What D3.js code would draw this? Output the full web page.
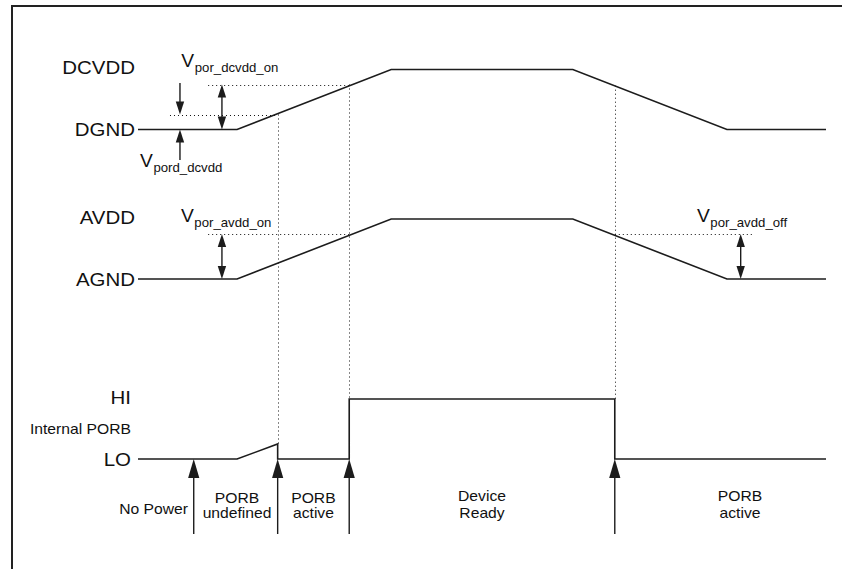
<!DOCTYPE html>
<html><head><meta charset="utf-8">
<script src="https://cdn.jsdelivr.net/npm/d3@7"></script>
<style>
html,body{margin:0;padding:0;background:#fff;}
svg{display:block;}
text{font-family:"Liberation Sans",Arial,Helvetica,sans-serif;fill:#111;}
</style>
</head><body>
<svg id="c" width="842" height="569"></svg>
<script>
// ---------------- data ----------------
const signals = ["DCVDD", "AVDD", "PORB"];
const highLabels = ["DCVDD", "AVDD", "HI"];
const lowLabels = ["DGND", "AGND", "LO"];
const sideLabel = "Internal PORB";

// waveforms: [time, level] (level 0 = ground/LO, 1 = supply/HI)
const dcvddWave = [[0,0],[14.4,0],[36.8,1],[63.2,1],[85.6,0],[100,0]];
const avddWave  = [[0,0],[14.4,0],[36.8,1],[63.2,1],[85.6,0],[100,0]];
const porbWave  = [[0,0],[14.4,0],[20.3,0.25],[20.3,0],[30.7,0],[30.7,1],[69.3,1],[69.3,0],[100,0]];

// thresholds
const thresholdNames  = ["pord_dcvdd", "por_dcvdd_on", "por_avdd_on", "por_avdd_off"];
const thresholdSignal = ["DCVDD", "DCVDD", "AVDD", "AVDD"];
const thresholdLevels = [0.25, 0.75, 0.75, 0.75];
const thresholdFrom   = [4.65, 10.2, 10.2, 69.3];
const thresholdTo     = [20.3, 30.7, 30.7, 89.4];

// state transition events
const eventTimes = [8.1, 20.3, 30.7, 69.3];
const stateNames = [["No Power"], ["PORB","undefined"], ["PORB","active"], ["Device","Ready"], ["PORB","active"]];
const stateTimes = [7.27, 14.4, 25.5, 50, 87.5];

// ---------------- layout ----------------
const svg = d3.select("#c");
const W = 842, H = 569;
const T = d3.scaleLinear().domain([0, 100]).range([138, 826]);
const ground = {DCVDD: 129.5, AVDD: 279, PORB: 459};
const Y = {};
signals.forEach(s => Y[s] = d3.scaleLinear().domain([0, 1]).range([ground[s], ground[s] - 60]));
const px = v => Math.round(v) + 0.5;

const INK = "#1c1c1c";

// frame
svg.append("path").attr("d", `M12,${H+5}V6H${W+5}`)
  .attr("fill","none").attr("stroke","#222").attr("stroke-width",2);

// text helper with horizontal stretch
function label(x, y, txt, size, anchor, sx) {
  return svg.append("text")
    .attr("transform", `translate(${x},${y}) scale(${sx||1.15},1)`)
    .attr("font-size", size).attr("text-anchor", anchor || "start").text(txt);
}

// signal labels
signals.forEach((s, i) => {
  const xr = s === "PORB" ? 131 : 135;
  label(xr, Y[s](0.92), highLabels[i], 17.5, "end", 1.17);
  label(xr, ground[s] + 6.5, lowLabels[i], 17.5, "end", 1.17);
});
label(131, Y.PORB(0.42), sideLabel, 14, "end", 1.12);

// dotted threshold lines
const dotted = g => g.attr("fill","none").attr("stroke","#111").attr("stroke-width",1).attr("stroke-dasharray","1,3");
thresholdNames.forEach((n, i) => {
  const y = px(Y[thresholdSignal[i]](thresholdLevels[i]));
  svg.append("line").attr("x1", T(thresholdFrom[i])).attr("x2", T(thresholdTo[i]))
    .attr("y1", y).attr("y2", y).call(dotted);
});

// dotted vertical guides
const guides = [
  {t: eventTimes[1], y1: Y.DCVDD(thresholdLevels[0]), y2: Y.PORB(0.25)},
  {t: eventTimes[2], y1: Y.DCVDD(thresholdLevels[1]), y2: Y.PORB(1)},
  {t: eventTimes[3], y1: Y.DCVDD(0.73), y2: Y.PORB(1)}
];
guides.forEach(g => svg.append("line").attr("x1", px(T(g.t))).attr("x2", px(T(g.t)))
  .attr("y1", g.y1).attr("y2", g.y2).call(dotted));

// waveforms
const waves = {DCVDD: dcvddWave, AVDD: avddWave, PORB: porbWave};
signals.forEach(s => {
  const line = d3.line().x(d => T(d[0])).y(d => Y[s](d[1]));
  svg.append("path").attr("d", line(waves[s])).attr("fill","none")
    .attr("stroke", INK).attr("stroke-width", 1.6).attr("stroke-linejoin","miter");
});

// arrow helpers
function head(x, tip, dir, len, hw) { // dir: -1 = pointing up, +1 = pointing down
  const b = tip - dir * len;
  svg.append("path").attr("d", `M${x},${tip}L${x-hw},${b}L${x+hw},${b}Z`).attr("fill", INK);
}
function shaft(x, y1, y2) {
  svg.append("line").attr("x1", x).attr("x2", x).attr("y1", y1).attr("y2", y2)
    .attr("stroke", INK).attr("stroke-width", 1.4);
}
function doubleArrow(x, yTop, yBot) {
  shaft(x, yTop + 6, yBot - 6);
  head(x, yTop, -1, 13, 4.2);
  head(x, yBot, 1, 13, 4.2);
}

// measurement arrows
doubleArrow(T(12.2), Y.DCVDD(thresholdLevels[1]), Y.DCVDD(0));
doubleArrow(T(12.2), Y.AVDD(thresholdLevels[2]), Y.AVDD(0));
doubleArrow(T(87.6), Y.AVDD(thresholdLevels[3]), Y.AVDD(0));
// pord arrows (pointing at the gap)
shaft(T(6.1), Y.DCVDD(0.775), Y.DCVDD(thresholdLevels[0]) - 6);
head(T(6.1), Y.DCVDD(thresholdLevels[0]), 1, 13, 4.2);
shaft(T(6.1), Y.DCVDD(0) + 6, Y.DCVDD(-0.51));
head(T(6.1), Y.DCVDD(0), -1, 13, 4.2);

// threshold names
function vLabel(x, y, sub) {
  const t = svg.append("text").attr("transform", `translate(${x},${y}) scale(1.1,1)`).attr("font-size", 17.5);
  t.append("tspan").text("V");
  t.append("tspan").attr("font-size", 12).attr("dy", 5).attr("dx", 0.5).text(sub);
}
vLabel(T(6.3), Y.DCVDD(1.04), thresholdNames[1]);
vLabel(T(0.3), Y.DCVDD(-0.62), thresholdNames[0]);
vLabel(T(6.25), Y.AVDD(0.955), thresholdNames[2]);
vLabel(T(81.25), Y.AVDD(0.955), thresholdNames[3]);

// event arrows
eventTimes.forEach(t => {
  const x = T(t);
  shaft(x, Y.PORB(0) + 10, Y.PORB(-1.25));
  head(x, Y.PORB(0), -1, 19, 5.6);
});

// state labels
stateNames.forEach((lines, i) => {
  const x = T(stateTimes[i]);
  const anchor = i === 0 ? "end" : "middle";
  if (lines.length === 1) {
    label(x, Y.PORB(-0.92), lines[0], 14, anchor, 1.12);
  } else {
    const base = i >= 3 ? -0.7 : -0.74;
    label(x, Y.PORB(base), lines[0], 14, anchor, 1.12);
    label(x, Y.PORB(-0.98), lines[1], 14, anchor, 1.12);
  }
});
</script>
</body></html>
